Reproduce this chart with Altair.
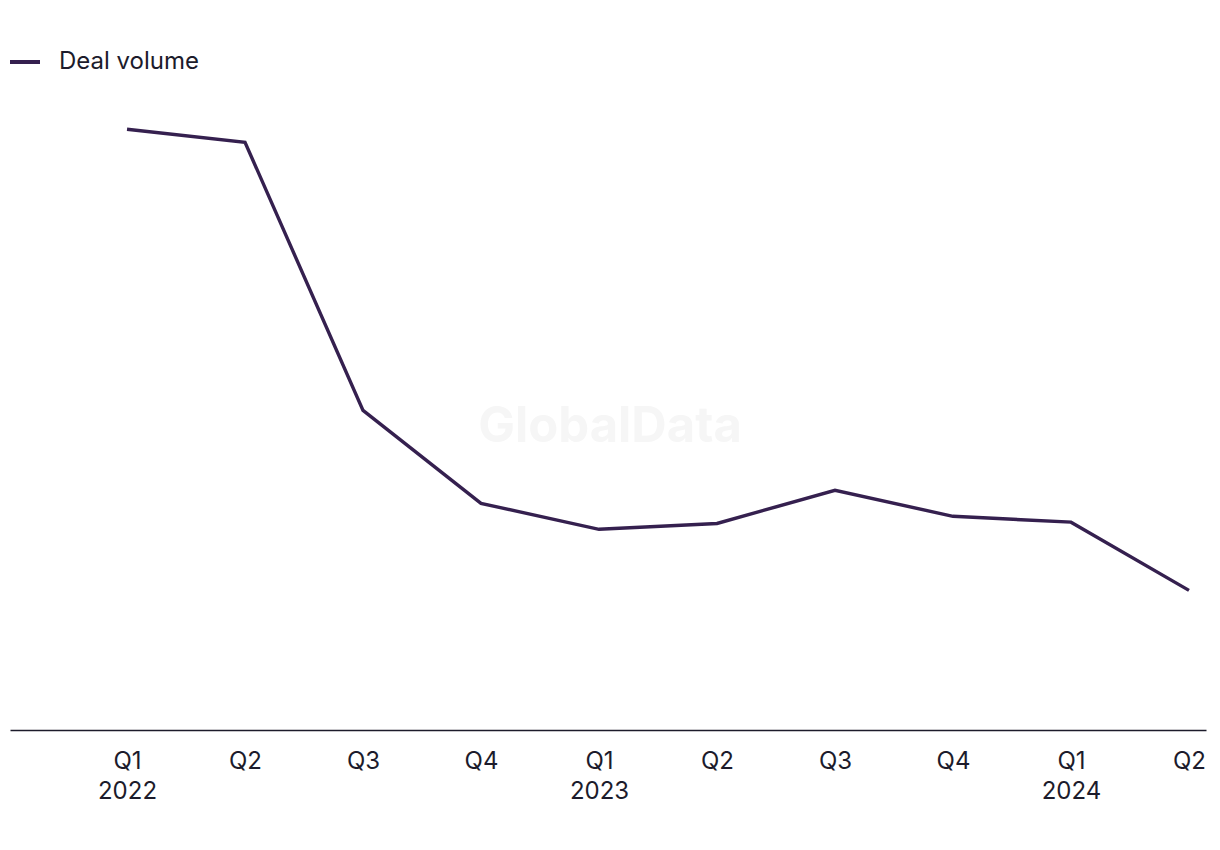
import altair as alt
import pandas as pd

quarters = ["Q1 2022", "Q2 2022", "Q3 2022", "Q4 2022", "Q1 2023",
            "Q2 2023", "Q3 2023", "Q4 2023", "Q1 2024", "Q2 2024"]
tick_labels = ["Q1|2022", "Q2", "Q3", "Q4", "Q1|2023", "Q2", "Q3", "Q4", "Q1|2024", "Q2"]
deal_volume = [92.5, 90.5, 49.2, 34.9, 30.9, 31.8, 36.9, 32.9, 32.0, 21.5]
series = ["Deal volume"] * len(quarters)

df = pd.DataFrame({"quarter": quarters, "label": tick_labels,
                   "value": deal_volume, "series": series})

label_expr = ("split({" + ",".join(f"'{q}':'{l}'" for q, l in zip(quarters, tick_labels))
              + "}[datum.value], '|')")

FONT = "Inter"
TXT = "#1c1b2b"
LINE = "#35204f"

line = alt.Chart(df).mark_line(strokeWidth=3.4, color=LINE).encode(
    x=alt.X("quarter:O", sort=quarters,
            scale=alt.Scale(type="point", padding=0.568, align=0.873),
            axis=alt.Axis(title=None, labelExpr=label_expr, labelAngle=0,
                          ticks=False, grid=False, domainColor="#1c1b2b",
                          domainWidth=1.6, labelFontSize=24, labelFont=FONT,
                          labelColor=TXT, labelPadding=19, labelLineHeight=30,
                          labelAlign="center", labelBaseline="top")),
    y=alt.Y("value:Q", scale=alt.Scale(domain=[0, 97], nice=False, zero=True),
            axis=None),
    color=alt.Color("series:N", scale=alt.Scale(range=[LINE]),
                    legend=alt.Legend(title=None, orient="none", legendX=-2,
                                      legendY=-55, symbolType="stroke",
                                      symbolSize=900, symbolStrokeWidth=4,
                                      labelFontSize=24, labelFont=FONT,
                                      labelColor=TXT, labelOffset=17)),
)

watermark = alt.Chart(pd.DataFrame({"t": ["GlobalData"]})).mark_text(
    fontSize=49, fontWeight="bold", font=FONT, color="#f6f6f6"
).encode(text="t:N", x=alt.value(600), y=alt.value(327))

chart = alt.layer(watermark, line).properties(
    width=1196, height=630,
    background="white",
    autosize=alt.AutoSizeParams(type="none"),
    padding={"left": 2, "top": 92, "right": 6, "bottom": 110},
).configure_view(stroke=None, strokeWidth=0)

chart.save("out.html", embed_options={"renderer": "svg", "actions": False})
